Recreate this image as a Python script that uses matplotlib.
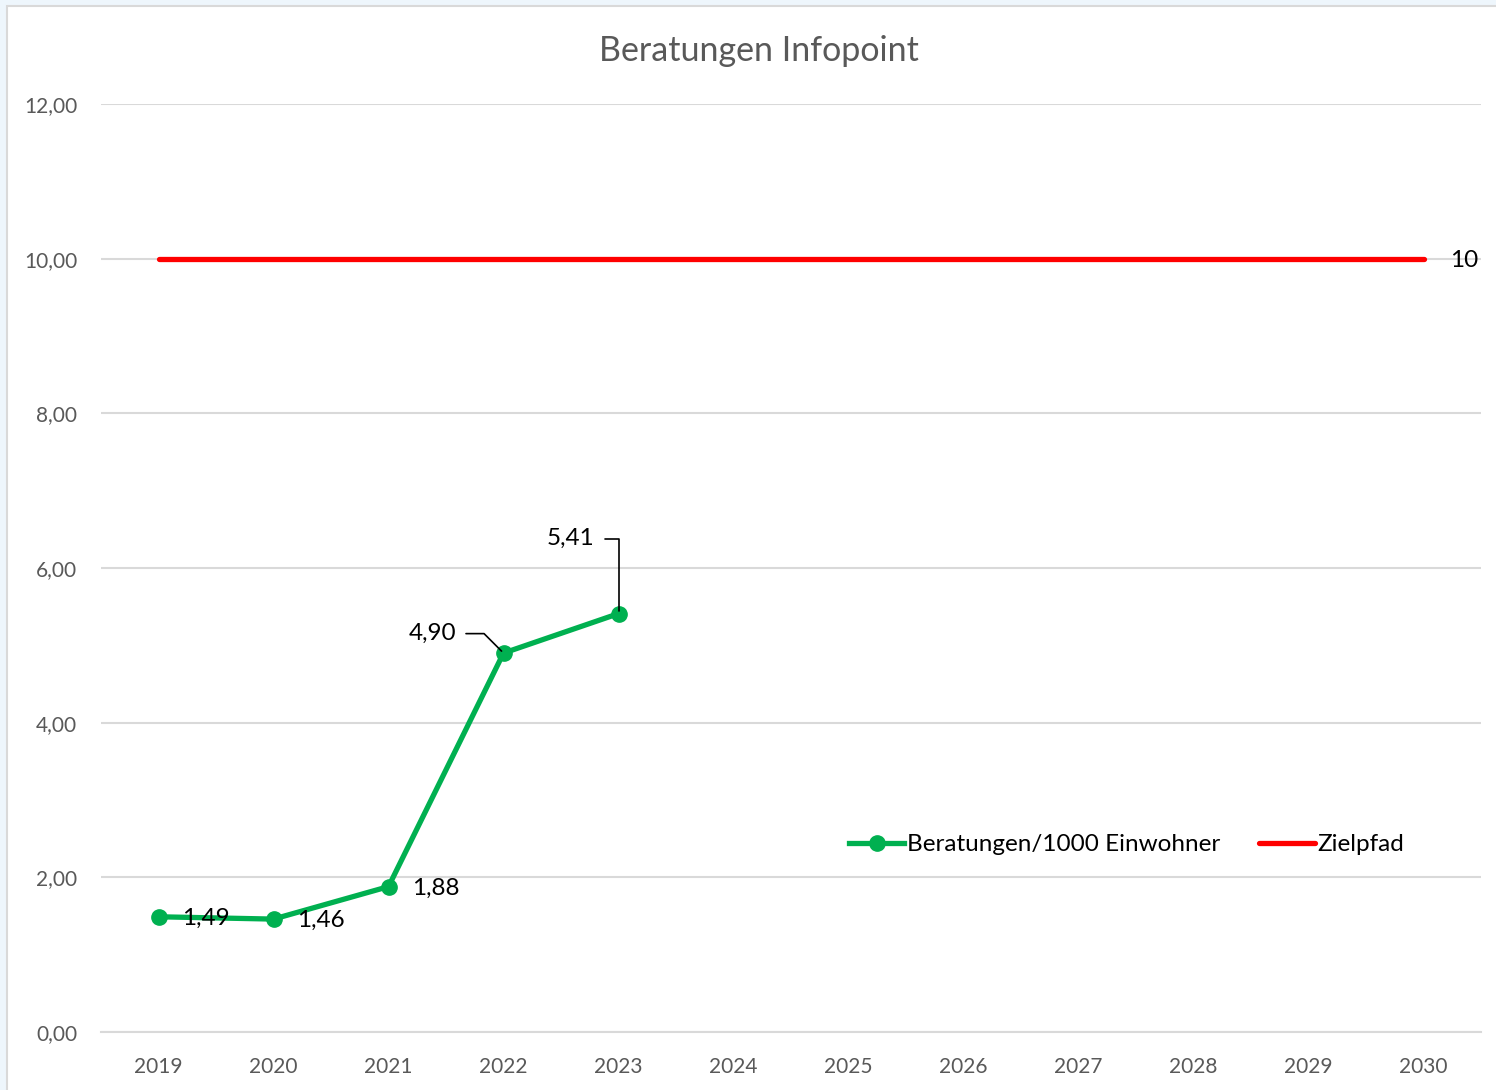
# Beratungen Infopoint - line chart with target path

import matplotlib.pyplot as plt
from matplotlib.patches import Rectangle

# data
years = ['2019', '2020', '2021', '2022', '2023', '2024', '2025',
         '2026', '2027', '2028', '2029', '2030']
beratungen = [1.49, 1.46, 1.88, 4.90, 5.41]
zielpfad = [10] * len(years)
yticks = [0, 2, 4, 6, 8, 10, 12]

plt.rcParams['font.family'] = ['Lato', 'DejaVu Sans']

fig = plt.figure(figsize=(14.96, 10.9), dpi=100, facecolor='#eef6fc')
# white chart area with thin grey frame
fig.patches.append(Rectangle((7 / 1496, -0.01), 1.0, 1 - 6 / 1090 + 0.01,
                             transform=fig.transFigure, facecolor='white',
                             edgecolor='#d9d9d9', linewidth=1.5, zorder=-10))

ax = fig.add_axes([101 / 1496, 58 / 1090, 1380 / 1496, 928 / 1090])
ax.set_facecolor('none')

x = list(range(len(years)))
ax.plot(x[:len(beratungen)], beratungen, color='#00b050', linewidth=3.8,
        marker='o', markersize=11, label='Beratungen/1000 Einwohner', zorder=3)
ax.plot(x, zielpfad, color='#ff0000', linewidth=3.8, solid_capstyle='round',
        label='Zielpfad', zorder=3)

ax.set_xlim(-0.5, len(years) - 0.5)
ax.set_ylim(0, 12)
ax.set_xticks(x)
ax.set_xticklabels(years)
ax.set_yticks(yticks)
ax.set_yticklabels([f'{v:.2f}'.replace('.', ',') for v in yticks])
ax.tick_params(length=0, labelsize=15, colors='#595959')
ax.tick_params(axis='x', pad=18)
ax.tick_params(axis='y', pad=17)
ax.grid(axis='y', color='#d9d9d9', linewidth=1.5)
ax.set_axisbelow(True)
for s in ['top', 'right', 'left']:
    ax.spines[s].set_visible(False)
ax.spines['bottom'].set_color('#d9d9d9')
ax.spines['bottom'].set_linewidth(1.5)

# data labels
lbl = dict(fontsize=17.5, color='black', va='center')
for i in range(3):
    ax.annotate(f'{beratungen[i]:.2f}'.replace('.', ','), (x[i], beratungen[i]),
                xytext=(17, -1), textcoords='offset points', ha='left', **lbl)
ax.annotate(f'{beratungen[3]:.2f}'.replace('.', ','), (x[3], beratungen[3]),
            xytext=(-34, 14), textcoords='offset points', ha='right', **lbl,
            arrowprops=dict(arrowstyle='-', color='black', lw=1.2, shrinkA=5,
                            shrinkB=2,
                            connectionstyle='angle,angleA=0,angleB=135,rad=0'))
ax.annotate(f'{beratungen[4]:.2f}'.replace('.', ','), (x[4], beratungen[4]),
            xytext=(-17, 54), textcoords='offset points', ha='right', **lbl,
            arrowprops=dict(arrowstyle='-', color='black', lw=1.2, shrinkA=5,
                            shrinkB=2,
                            connectionstyle='angle,angleA=0,angleB=90,rad=0'))
ax.annotate(str(zielpfad[-1]), (x[-1], zielpfad[-1]), xytext=(19, -1),
            textcoords='offset points', ha='left', **lbl)

ax.legend(loc='center', bbox_to_anchor=(0.743, 0.202), ncol=2, frameon=False,
          fontsize=17.5, handlelength=2.3, handletextpad=0.1, columnspacing=1.6)

fig.text(759 / 1496, 1 - 51 / 1090, 'Beratungen Infopoint',
         ha='center', va='center', fontsize=24.5, color='#595959')

plt.savefig('out.png', dpi=100, facecolor=fig.get_facecolor())
